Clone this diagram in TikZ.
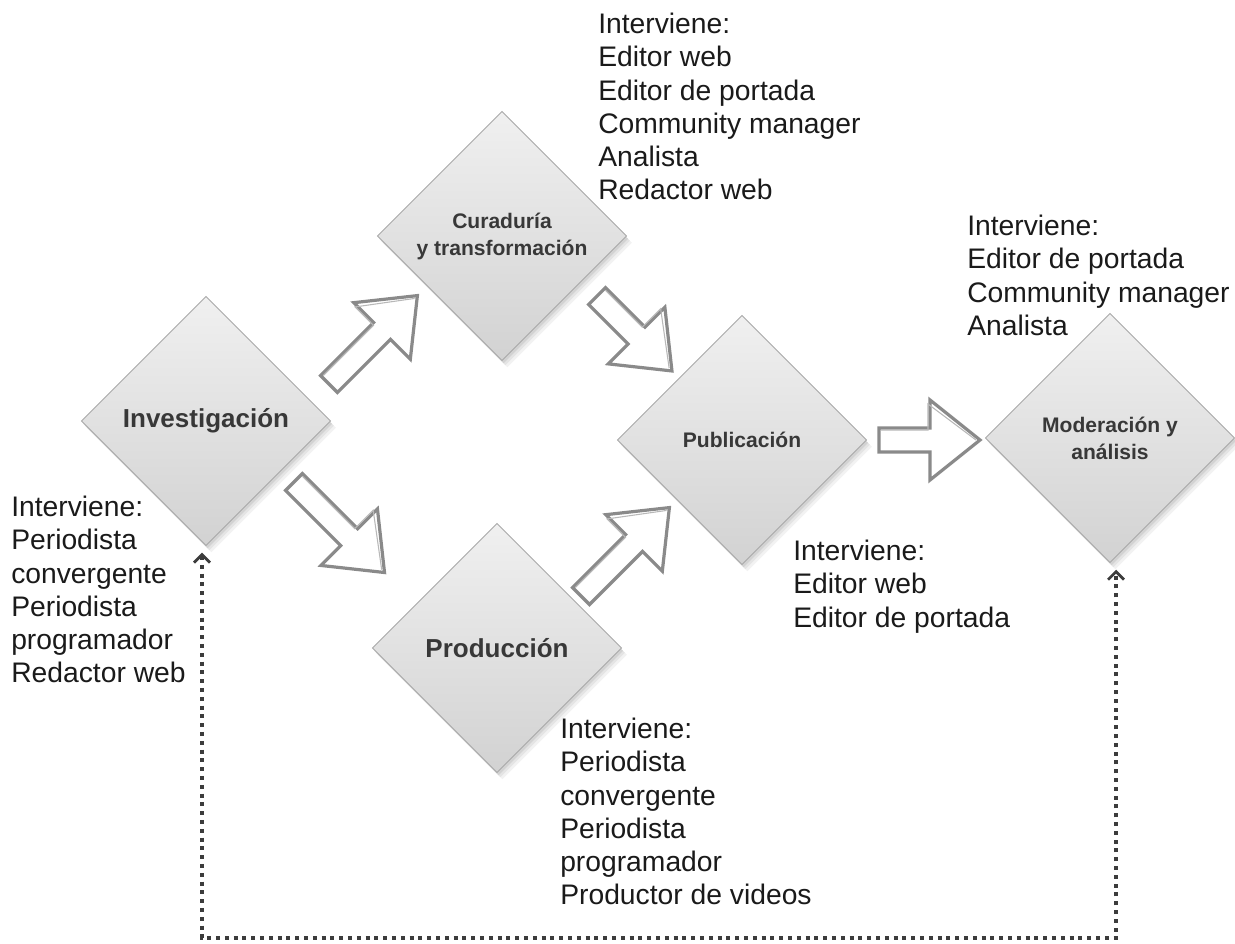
\documentclass[tikz,border=0pt]{standalone}
\usepackage{fontspec}
\setmainfont{Liberation Sans}
\usetikzlibrary{shapes.geometric,arrows.meta,calc}
\definecolor{diatop}{HTML}{F0F0F0}
\definecolor{diabot}{HTML}{D2D2D2}
\definecolor{diaedge}{HTML}{A8A8A8}
\definecolor{labtext}{HTML}{383838}
\definecolor{txt}{HTML}{1A1A1A}
\definecolor{arrc}{HTML}{8A8A8A}
\definecolor{arrc2}{HTML}{B8B8B8}
\definecolor{dotc}{HTML}{3C3C3C}
\newcommand{\blkarrow}[4]{% x, y, angle, length
  \begin{scope}[shift={(#1,#2)}, rotate=#3]
    \draw[blockarrow] (0,-12) -- ({#4-50},-12) -- ({#4-50},-40) -- (#4,0)
      -- ({#4-50},40) -- ({#4-50},12) -- (0,12) -- cycle;
    \draw[blockarrow2] (2,-10) -- ({#4-52},-10) -- ({#4-52},-36) -- ({#4-4},0);
  \end{scope}}
\begin{document}
\begin{tikzpicture}[x=0.75pt,y=-0.75pt,
  dnode/.style={diamond, aspect=1, minimum width=187pt, minimum height=187pt,
    inner sep=0pt, draw=diaedge, line width=0.6pt, top color=diatop,
    bottom color=diabot, align=center, text=labtext,
    preaction={fill=black, opacity=0.05, transform canvas={xshift=4pt,yshift=-5pt}},
    preaction={fill=black, opacity=0.06, transform canvas={xshift=2.5pt,yshift=-3.5pt}},
    preaction={fill=black, opacity=0.08, transform canvas={xshift=1.2pt,yshift=-2pt}}},
  bigl/.style={font=\bfseries\fontsize{19.5pt}{23pt}\selectfont},
  smalll/.style={font=\bfseries\fontsize{15.8pt}{20.2pt}\selectfont},
  info/.style={anchor=north west, inner sep=0pt, align=left, text=txt,
    font=\fontsize{21.2pt}{24.9pt}\selectfont},
  blockarrow/.style={draw=arrc, line width=2.4pt, fill=white, line join=miter},
  blockarrow2/.style={draw=arrc2, line width=0.8pt, line join=miter},
  dotline/.style={draw=dotc, line width=2.4pt, dash pattern=on 3pt off 3.6pt},
  barb/.style={}
]
\useasboundingbox (0,0) rectangle (1235,943);

% diamonds
\node[dnode, bigl] (inv) at (206,421) {Investigación};
\node[dnode, smalll] (cur) at (502,236) {Curaduría\\y transformación};
\node[dnode, bigl] (pro) at (497,648) {Producción};
\node[dnode, smalll] (pub) at (742,440) {Publicación};
\node[dnode, smalll] (mod) at (1110,438) {Moderación y\\análisis};

% block arrows
\blkarrow{329}{384}{45}{125}
\blkarrow{294}{482}{-45}{128}
\blkarrow{597}{296}{-45}{106}
\blkarrow{581}{596}{45}{125}
\blkarrow{879}{440}{0}{101}

% dotted feedback line
\coordinate (bl) at (202,938);
\coordinate (br) at (1116,938);
\draw[dotline, {Straight Barb[length=6pt,width=12pt,line width=2pt]}-{Straight Barb[length=6pt,width=12pt,line width=2pt]}]
  ([yshift=-5pt]inv.south -| bl) -- (bl) -- (br) -- ([yshift=-5pt]mod.south -| br);

% texts
\node[info] (tcur) at (598,13) {Interviene:\\Editor web\\Editor de portada\\Community manager\\Analista\\Redactor web};
\node[info] (tmod) at (967,215) {Interviene:\\Editor de portada\\Community manager\\Analista};
\node[info] (tpub) at (793,540) {Interviene:\\Editor web\\Editor de portada};
\node[info] (tinv) at (11,496) {Interviene:\\Periodista\\convergente\\Periodista\\programador\\Redactor web};
\node[info] (tpro) at (560,718) {Interviene:\\Periodista\\convergente\\Periodista\\programador\\Productor de videos};
\end{tikzpicture}
\end{document}
